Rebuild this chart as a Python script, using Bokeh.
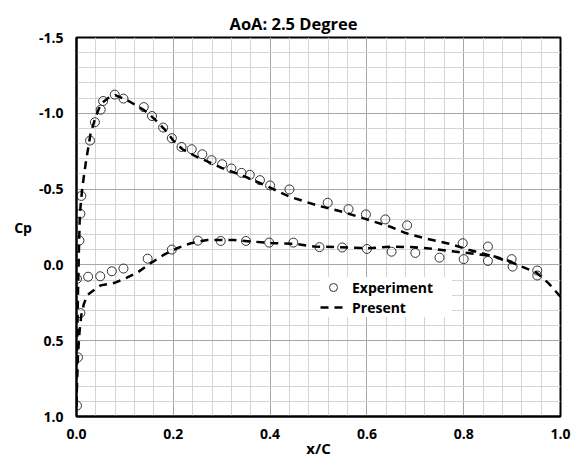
from bokeh.plotting import figure
from bokeh.models import (Range1d, SingleIntervalTicker, NumeralTickFormatter,
                          Legend, LegendItem)
from bokeh.embed import file_html
from bokeh.resources import INLINE

# ---- data ----
exp_upper_x = [0.006, 0.008, 0.010, 0.028, 0.038, 0.050, 0.055, 0.079, 0.097, 0.139,
               0.156, 0.179, 0.197, 0.217, 0.238, 0.260, 0.279, 0.301, 0.320, 0.341,
               0.358, 0.379, 0.400, 0.440, 0.519, 0.562, 0.598, 0.638, 0.683, 0.798,
               0.850, 0.899, 0.952]
exp_upper_cp = [-0.161, -0.337, -0.455, -0.82, -0.941, -1.024, -1.081, -1.123, -1.097, -1.041,
                -0.982, -0.906, -0.836, -0.778, -0.763, -0.730, -0.691, -0.664, -0.636, -0.607,
                -0.594, -0.559, -0.524, -0.498, -0.410, -0.368, -0.333, -0.300, -0.261, -0.143,
                -0.121, -0.038, 0.037]

exp_lower_x = [0.001, 0.003, 0.008, 0.001, 0.024, 0.049, 0.073, 0.097, 0.147, 0.197,
               0.251, 0.298, 0.350, 0.398, 0.448, 0.502, 0.549, 0.600, 0.651, 0.700,
               0.750, 0.800, 0.850, 0.901, 0.952]
exp_lower_cp = [0.928, 0.61, 0.318, 0.092, 0.078, 0.075, 0.042, 0.024, -0.041, -0.101,
                -0.160, -0.158, -0.158, -0.147, -0.147, -0.117, -0.115, -0.105, -0.087, -0.079,
                -0.048, -0.038, -0.026, 0.011, 0.070]

pres_upper_x = [0.0, 0.001, 0.003, 0.005, 0.007, 0.012, 0.019, 0.029, 0.04, 0.05,
                0.065, 0.08, 0.095, 0.112, 0.13, 0.146, 0.165, 0.184, 0.2, 0.22,
                0.25, 0.28, 0.3, 0.35, 0.4, 0.44, 0.5, 0.55, 0.6, 0.65,
                0.68, 0.72, 0.77, 0.81, 0.85, 0.9, 0.95, 0.975, 1.0]
pres_upper_cp = [0.95, 0.6, 0.2, -0.1, -0.34, -0.51, -0.67, -0.866, -0.98, -1.06,
                 -1.1, -1.12, -1.1, -1.073, -1.04, -1.007, -0.95, -0.887, -0.82, -0.76,
                 -0.71, -0.67, -0.64, -0.58, -0.51, -0.45, -0.39, -0.35, -0.30, -0.25,
                 -0.21, -0.175, -0.14, -0.10, -0.066, -0.015, 0.05, 0.12, 0.21]

pres_lower_x = [0.0, 0.001, 0.003, 0.006, 0.01, 0.015, 0.022, 0.039, 0.05, 0.077,
                0.098, 0.126, 0.153, 0.18, 0.208, 0.236, 0.27, 0.326, 0.367, 0.408,
                0.448, 0.491, 0.547, 0.602, 0.65, 0.698, 0.74, 0.781, 0.822, 0.864, 0.9]
pres_lower_cp = [0.95, 0.8, 0.6, 0.45, 0.33, 0.26, 0.20, 0.16, 0.135, 0.12,
                 0.094, 0.05, -0.011, -0.066, -0.11, -0.143, -0.164, -0.164, -0.153, -0.143,
                 -0.14, -0.121, -0.117, -0.11, -0.121, -0.117, -0.104, -0.088, -0.073, -0.055, -0.02]

title_text = "AoA: 2.5 Degree"
x_label = "x/C"
y_label = "Cp"

FONT = "Open Sans"

# ---- figure ----
p = figure(width=578, height=463, output_backend="svg", toolbar_location=None,
           x_range=Range1d(0.0, 1.0), y_range=Range1d(1.0, -1.5),
           min_border_left=76, min_border_right=18, min_border_top=37,
           min_border_bottom=47, background_fill_color="white",
           border_fill_color="white")

p.title.text = title_text
p.title.align = "left"
p.title.offset = 153
p.title.text_font = FONT
p.title.text_font_size = "16.5px"
p.title.text_font_style = "bold"
p.title.text_color = "black"
p.title.standoff = 6

xt = SingleIntervalTicker(interval=0.2, num_minor_ticks=5)
yt = SingleIntervalTicker(interval=0.5, num_minor_ticks=5)
p.xaxis.ticker = xt
p.yaxis.ticker = yt
p.xgrid.ticker = xt
p.ygrid.ticker = yt
for ax in (p.xaxis, p.yaxis):
    ax.formatter = NumeralTickFormatter(format="0.0")
    ax.major_tick_in = 0
    ax.major_tick_out = 0
    ax.minor_tick_in = 0
    ax.minor_tick_out = 0
    ax.axis_line_color = "black"
    ax.axis_line_width = 2
    ax.major_label_text_font = FONT
    ax.major_label_text_font_size = "14px"
    ax.major_label_text_font_style = "bold"
    ax.major_label_text_color = "black"
    ax.axis_label_text_font = FONT
    ax.axis_label_text_font_style = "bold"
    ax.axis_label_text_color = "black"
p.xaxis.major_label_standoff = 12
p.yaxis.major_label_standoff = 13

p.xaxis.axis_label = x_label
p.xaxis.axis_label_text_font_size = "15px"
p.xaxis.axis_label_standoff = -4

p.yaxis.axis_label = y_label
p.yaxis.axis_label_text_font_size = "14px"
p.yaxis.axis_label_standoff = 4
yax = p.yaxis[0]
if "axis_label_orientation" in yax.properties():
    yax.axis_label_orientation = "horizontal"

for g in (p.xgrid, p.ygrid):
    g.grid_line_color = "#a6a6a6"
    g.grid_line_width = 1
    g.minor_grid_line_color = "#d4d4d4"
    g.minor_grid_line_width = 1

p.outline_line_color = "black"
p.outline_line_width = 2

r_exp1 = p.scatter(exp_upper_x, exp_upper_cp, marker="circle", size=9,
                   fill_color=None, line_color="#333333", line_width=1)
r_exp2 = p.scatter(exp_lower_x, exp_lower_cp, marker="circle", size=9,
                   fill_color=None, line_color="#333333", line_width=1)

pres_x = pres_upper_x[::-1] + pres_lower_x[1:]
pres_cp = pres_upper_cp[::-1] + pres_lower_cp[1:]
r_pres = p.line(pres_x, pres_cp, line_color="black", line_width=2.5, line_dash="8 6")

legend = Legend(items=[LegendItem(label="Experiment", renderers=[r_exp1]),
                       LegendItem(label="Present", renderers=[r_pres])],
                location=(244, 99), margin=0, padding=5, spacing=0,
                glyph_width=26, glyph_height=20, label_height=20, label_width=100,
                label_standoff=6, border_line_color=None,
                background_fill_color="white", background_fill_alpha=1.0,
                label_text_font=FONT, label_text_font_size="14px",
                label_text_font_style="bold", label_text_color="black")
p.add_layout(legend)

open("out.html", "w").write(file_html(p, INLINE))
